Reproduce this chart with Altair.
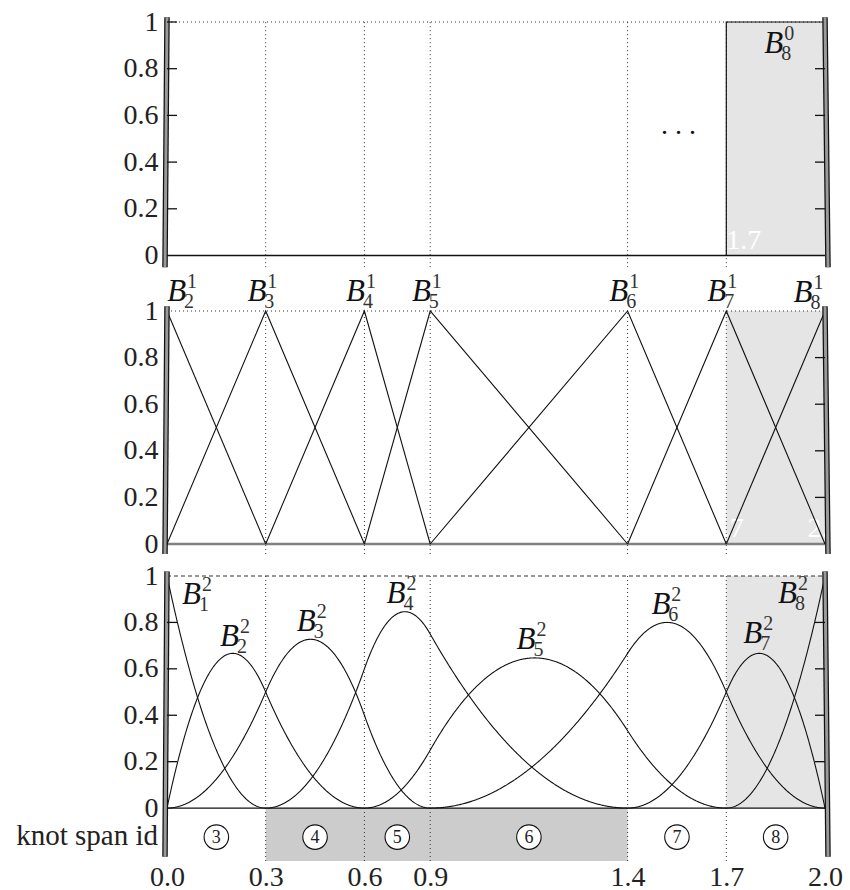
import altair as alt
import numpy as np
import pandas as pd

FONT = "Liberation Serif"

# distinct knots of the spline space and the tick texts printed under them
knots = [0.0, 0.3, 0.6, 0.8, 1.4, 1.7, 2.0]
knot_tick_labels = ["0.0", "0.3", "0.6", "0.9", "1.4", "1.7", "2.0"]
# clamped knot vector for degree 2 (end knots repeated)
knot_vector = [0.0, 0.0, 0.0, 0.3, 0.6, 0.8, 1.4, 1.7, 2.0, 2.0, 2.0]

span_ids = [3, 4, 5, 6, 7, 8]
strip_shaded_ids = [4, 5, 6]
active_span = 8
y_ticks = [0.0, 0.2, 0.4, 0.6, 0.8, 1.0]
side_ticks = [0.2, 0.4, 0.6, 0.8]

# basis functions shown in each panel (index i of B_i^p)
deg0_index = [8]
deg1_index = [2, 3, 4, 5, 6, 7, 8]
deg2_index = [1, 2, 3, 4, 5, 6, 7, 8]

# label anchors: right edge and baseline of the letter B, in data units
deg0_label_x = [1.873]
deg0_label_y = [0.868]
deg1_label_x = [0.058, 0.302, 0.602, 0.802, 1.402, 1.700, 1.962]
deg1_label_y = [1.045, 1.045, 1.045, 1.045, 1.045, 1.045, 1.040]
deg2_label_x = [0.103, 0.219, 0.452, 0.725, 1.120, 1.530, 1.809, 1.915]
deg2_label_y = [0.879, 0.698, 0.763, 0.884, 0.685, 0.836, 0.711, 0.884]


def basis(t, p, i, x):
    """Cox-de Boor recursion for N_{i,p}(x) (0-based i)."""
    t = np.asarray(t, float)
    if p == 0:
        closes_end = (t[i + 1] == t[-1]) and (t[i] < t[i + 1])
        inside = (x >= t[i]) & ((x < t[i + 1]) | (closes_end & (x == t[-1])))
        return inside.astype(float)
    out = np.zeros_like(x, dtype=float)
    d1 = t[i + p] - t[i]
    if d1 > 0:
        out += (x - t[i]) / d1 * basis(t, p - 1, i, x)
    d2 = t[i + p + 1] - t[i + 1]
    if d2 > 0:
        out += (t[i + p + 1] - x) / d2 * basis(t, p - 1, i + 1, x)
    return out


def curve_table(p, indices, xs):
    rows = []
    for k in indices:
        i = k - 1
        lo, hi = knot_vector[i], knot_vector[i + p + 1]
        xx = xs[(xs >= lo) & (xs <= hi)]
        for xv, yv in zip(xx, basis(knot_vector, p, i, xx)):
            rows.append({"x": float(xv), "y": float(yv), "name": f"B{k}"})
    return pd.DataFrame(rows)


grid = np.unique(np.concatenate([np.linspace(0.0, 2.0, 801), knots]))
deg1_df = curve_table(1, deg1_index, np.array(knots))
deg2_df = curve_table(2, deg2_index, grid)

# degree-0 step: constant value on every knot interval
step_rows = []
for a, b in zip(knots[:-1], knots[1:]):
    v = float(basis(knot_vector, 0, deg0_index[0] - 1, np.array([(a + b) / 2]))[0])
    step_rows += [{"x": a, "y": v, "o": len(step_rows)}, {"x": b, "y": v, "o": len(step_rows) + 1}]
step_df = pd.DataFrame(step_rows)

Y_LABELS = "datum.value == 0 ? '0' : datum.value == 1 ? '1' : format(datum.value, '.1f')"
X_LABELS = "[" + ",".join(f"'{s}'" for s in knot_tick_labels) + "][indexof([" + \
    ",".join(str(k) for k in knots) + "], datum.value)]"

LABEL_SIZE = 28


def yaxis():
    return alt.Axis(values=y_ticks, labelExpr=Y_LABELS, domain=False, ticks=False, grid=False,
                    labelPadding=9, labelFontSize=LABEL_SIZE, labelColor="#222", labelFont=FONT,
                    title=None)


def panel(height, ydom, xax, bottom_of_lines, bottom_of_frame, content, left_ticks, baseline_color,
          baseline_width, top_line_dash, white_align, white_range):
    yax = yaxis()

    def X(**kw):
        return alt.X("x:Q", scale=alt.Scale(domain=[0, 2], nice=False, zero=False), axis=xax, **kw)

    def Y(**kw):
        return alt.Y("y:Q", scale=alt.Scale(domain=ydom, nice=False, zero=False), axis=yax, **kw)

    def seg(df, **mk):
        return alt.Chart(df).mark_rule(**mk).encode(x=X(), x2="x2:Q", y=Y(), y2="y2:Q")

    def txt(df, **mk):
        return alt.Chart(df).mark_text(font=FONT, **mk).encode(x=X(), y=Y(), text="t:N")

    inner = knots[1:-1]
    layers = []
    # shaded active knot span
    layers.append(alt.Chart(pd.DataFrame({"x": [knots[active_span - 3]], "x2": [knots[active_span - 2]],
                                          "y": [0.0], "y2": [1.0]}))
                  .mark_rect(color="#e5e5e5").encode(x=X(), x2="x2:Q", y=Y(), y2="y2:Q"))
    layers += content["under"](X, Y)
    # knot lines
    layers.append(seg(pd.DataFrame({"x": inner, "x2": inner, "y": [bottom_of_lines] * len(inner),
                                    "y2": [1.0] * len(inner)}),
                      color="#333", strokeWidth=1, strokeDash=[1, 3]))
    # level-one guide
    layers.append(seg(pd.DataFrame({"x": [0.0], "x2": [2.0], "y": [1.0], "y2": [1.0]}),
                      color="#333", strokeWidth=1, strokeDash=top_line_dash))
    # baseline
    layers.append(seg(pd.DataFrame({"x": [0.0], "x2": [2.0], "y": [0.0], "y2": [0.0]}),
                      color=baseline_color, strokeWidth=baseline_width))
    # faint knot values drawn in white inside the plot
    if white_range:
        a, b = white_range
        layers.append(txt(pd.DataFrame({"x": knots[a:b], "y": [0.0] * (b - a),
                                        "t": knot_tick_labels[a:b]}),
                          color="white", fontSize=LABEL_SIZE, align=white_align, baseline="bottom", dy=-1))
    layers += content["over"](X, Y)
    # double frame lines on both sides
    fr = pd.DataFrame({"x": [0.0], "x2": [0.0], "y": [bottom_of_frame], "y2": [1.02]})
    frr = pd.DataFrame({"x": [2.0], "x2": [2.0], "y": [bottom_of_frame], "y2": [1.02]})
    layers.append(seg(fr, color="#111", strokeWidth=5.5, xOffset=-2))
    layers.append(seg(fr, color="#9a9a9a", strokeWidth=3, xOffset=-2))
    layers.append(seg(frr, color="#111", strokeWidth=5.5, xOffset=3))
    layers.append(seg(frr, color="#9a9a9a", strokeWidth=3, xOffset=3))
    # inward ticks
    tick_len = 10 / 329.0
    if left_ticks:
        layers.append(seg(pd.DataFrame({"x": [0.0] * len(left_ticks), "x2": [tick_len] * len(left_ticks),
                                        "y": left_ticks, "y2": left_ticks}), color="#111", strokeWidth=1.3))
    layers.append(seg(pd.DataFrame({"x": [2.0 - tick_len] * len(side_ticks), "x2": [2.0] * len(side_ticks),
                                    "y": side_ticks, "y2": side_ticks}), color="#111", strokeWidth=1.3))
    layers += content["labels"](X, Y)
    return alt.layer(*layers).properties(width=658, height=height)


def b_labels(idx, sup, lx, ly):
    df = pd.DataFrame({"x": lx, "y": ly, "b": ["B"] * len(idx),
                       "sub": [str(i) for i in idx], "sup": [str(sup)] * len(idx)})

    def make(X, Y):
        base = alt.Chart(df)
        return [
            base.mark_text(font=FONT, fontStyle="italic", fontSize=31, align="right",
                           baseline="alphabetic", color="#111").encode(x=X(), y=Y(), text="b:N"),
            base.mark_text(font=FONT, fontSize=20, align="left", baseline="alphabetic",
                           dx=1, dy=-13, color="#333").encode(x=X(), y=Y(), text="sup:N"),
            base.mark_text(font=FONT, fontSize=20, align="left", baseline="alphabetic",
                           dx=-2, dy=7, color="#333").encode(x=X(), y=Y(), text="sub:N"),
        ]
    return make


# ---- degree 0 (plot area extended a little below zero to set the gap) ----
def top_over(X, Y):
    step = alt.Chart(step_df).mark_line(color="#111", strokeWidth=1.2).encode(
        x=X(), y=Y(), order="o:Q")
    dots = alt.Chart(pd.DataFrame({"x": [1.555], "y": [0.52], "t": [". . ."]})).mark_text(
        font=FONT, fontSize=28, align="center", baseline="alphabetic", color="#111").encode(
        x=X(), y=Y(), text="t:N")
    return [step, dots]


top = panel(257, [-0.1006, 1], None, -0.05, -0.05,
            {"under": lambda X, Y: [], "over": top_over,
             "labels": b_labels(deg0_index, 0, deg0_label_x, deg0_label_y)},
            [0.2, 0.4, 0.6, 0.8, 1.0], "#111", 1.5, [1, 3], "left", (1, len(knots) - 1))


# ---- degree 1 ----
def mid_over(X, Y):
    return [alt.Chart(deg1_df).mark_line(color="#111", strokeWidth=1.1).encode(
        x=X(), y=Y(), detail="name:N")]


mid = panel(233, [0, 1], None, -0.043, -0.043,
            {"under": lambda X, Y: [], "over": mid_over,
             "labels": b_labels(deg1_index, 1, deg1_label_x, deg1_label_y)},
            [], "#808080", 2.5, [1, 3], "center", (1, len(knots)))


# ---- degree 2 with knot-span strip ----
strip_lo = -0.228
span_mid = [(a + b) / 2 for a, b in zip(knots[:-1], knots[1:])]


def bot_under(X, Y):
    lo = [knots[span_ids.index(s)] for s in strip_shaded_ids]
    hi = [knots[span_ids.index(s) + 1] for s in strip_shaded_ids]
    return [alt.Chart(pd.DataFrame({"x": [min(lo)], "x2": [max(hi)], "y": [strip_lo], "y2": [0.0]}))
            .mark_rect(color="#cccccc").encode(x=X(), x2="x2:Q", y=Y(), y2="y2:Q")]


def bot_over(X, Y):
    curves = alt.Chart(deg2_df).mark_line(color="#111", strokeWidth=1.1).encode(
        x=X(), y=Y(), detail="name:N")
    ids = pd.DataFrame({"x": span_mid, "y": [-0.125] * len(span_mid), "t": [str(s) for s in span_ids]})
    circles = alt.Chart(ids).mark_point(shape="circle", filled=True, fill="white", stroke="#111",
                                        strokeWidth=1.1, size=600, opacity=1).encode(x=X(), y=Y())
    nums = alt.Chart(ids).mark_text(font=FONT, fontSize=18, align="center", baseline="middle",
                                    dy=1, color="#222").encode(x=X(), y=Y(), text="t:N")
    title = alt.Chart(pd.DataFrame({"x": [0.0], "y": [-0.16], "t": ["knot span id"]})).mark_text(
        font=FONT, fontSize=29, align="right", baseline="alphabetic", dx=-9, color="#222").encode(
        x=X(), y=Y(), text="t:N")
    return [curves, circles, nums, title]


bottom_xaxis = alt.Axis(values=knots, labelExpr=X_LABELS, domain=False, ticks=False, grid=False,
                        labelPadding=2, labelFontSize=LABEL_SIZE, labelColor="#222", labelFont=FONT,
                        labelOverlap=False, labelFlush=False, title=None)

bottom = panel(285, [strip_lo, 1], bottom_xaxis, strip_lo, -0.21,
               {"under": bot_under, "over": bot_over,
                "labels": b_labels(deg2_index, 2, deg2_label_x, deg2_label_y)},
               side_ticks, "#111", 1.2, [4, 3], "center", None)

chart = alt.vconcat(top, mid, bottom, spacing=32, bounds="flush").properties(
    padding={"left": 16, "top": 8, "right": 0, "bottom": 0}, background="white"
).configure_view(stroke=None)

chart.save("out.html", embed_options={"renderer": "svg", "actions": False})
